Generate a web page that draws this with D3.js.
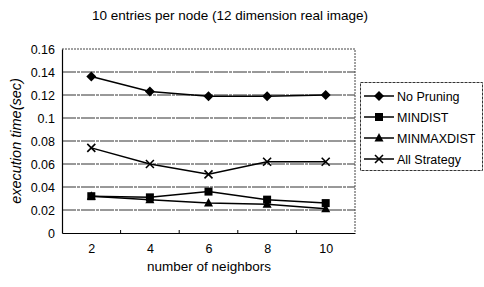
<!DOCTYPE html>
<html>
<head>
<meta charset="utf-8">
<script src="https://cdn.jsdelivr.net/npm/d3@7"></script>
<style>
  body { margin: 0; background: #fff; }
  svg { font-family: "Liberation Sans", Arial, sans-serif; }
</style>
</head>
<body>
<svg id="chart" width="484" height="287"></svg>
<script>
'use strict'

const neighbors = ['2', '4', '6', '8', '10']
const noPruning = [0.136, 0.123, 0.119, 0.119, 0.120]
const minDist = [0.032, 0.031, 0.036, 0.029, 0.026]
const minMaxDist = [0.032, 0.029, 0.026, 0.025, 0.021]
const allStrategy = [0.074, 0.060, 0.051, 0.062, 0.062]
const yTicks = [0, 0.02, 0.04, 0.06, 0.08, 0.1, 0.12, 0.14, 0.16]

const series = [
  { name: 'No Pruning', values: noPruning, symbol: 'diamond' },
  { name: 'MINDIST', values: minDist, symbol: 'square' },
  { name: 'MINMAXDIST', values: minMaxDist, symbol: 'triangle' },
  { name: 'All Strategy', values: allStrategy, symbol: 'cross' }
]

const margin = { top: 49, left: 62, right: 355, bottom: 233 }
const fontFamily = '"Liberation Sans", Arial, sans-serif'

const svg = d3.select('#chart')

const x = d3.scalePoint()
  .domain(neighbors)
  .range([margin.left, margin.right])
  .padding(0.5)

const y = d3.scaleLinear()
  .domain([0, 0.16])
  .range([margin.bottom, margin.top])

// title
svg.append('text')
  .attr('x', 230).attr('y', 20)
  .attr('text-anchor', 'middle')
  .attr('font-size', 13.5)
  .text('10 entries per node (12 dimension real image)')

// gridlines
svg.append('g')
  .selectAll('line')
  .data(yTicks.slice(1, -1))
  .join('line')
    .attr('x1', margin.left).attr('x2', margin.right)
    .attr('y1', d => y(d)).attr('y2', d => y(d))
    .attr('stroke', '#333')
    .attr('stroke-width', 1)
    .attr('stroke-dasharray', '14,1,3,1')

// frame: top and right dotted
svg.append('path')
  .attr('d', `M${margin.left},${margin.top}H${margin.right}V${margin.bottom}`)
  .attr('fill', 'none')
  .attr('stroke', '#444')
  .attr('stroke-dasharray', '2,1')

// y axis
const yAxis = svg.append('g')
  .attr('transform', `translate(${margin.left},0)`)
  .call(d3.axisLeft(y).tickValues(yTicks).tickSize(0).tickPadding(7)
    .tickFormat(d => d === 0 ? '0' : d3.format('')(+d.toFixed(2))))
yAxis.select('.domain').attr('stroke', '#000').attr('stroke-width', 1.2)
yAxis.selectAll('text').attr('font-size', 12.5).attr('fill', '#000')
  .attr('font-family', fontFamily)

// x axis
const xAxis = svg.append('g')
  .attr('transform', `translate(0,${margin.bottom})`)
  .call(d3.axisBottom(x).tickSize(0).tickPadding(11))
xAxis.select('.domain').attr('stroke', '#000').attr('stroke-width', 1.2)
xAxis.selectAll('text').attr('font-size', 12.5).attr('fill', '#000')
  .attr('font-family', fontFamily)

// small inner ticks at category boundaries
const step = x.step()
svg.append('g')
  .selectAll('line')
  .data(neighbors.slice(1))
  .join('line')
    .attr('x1', d => x(d) - step / 2).attr('x2', d => x(d) - step / 2)
    .attr('y1', margin.bottom).attr('y2', margin.bottom - 3)
    .attr('stroke', '#000')

// axis titles
svg.append('text')
  .attr('x', 209).attr('y', 271)
  .attr('text-anchor', 'middle')
  .attr('font-size', 13.5)
  .text('number of neighbors')

svg.append('text')
  .attr('transform', 'translate(21,141) rotate(-90)')
  .attr('text-anchor', 'middle')
  .attr('font-size', 14.5)
  .attr('font-style', 'italic')
  .text('execution time(sec)')

// symbols
function drawMarker(g, kind, cx, cy) {
  if (kind === 'diamond') {
    g.append('path')
      .attr('d', `M${cx},${cy - 5}L${cx + 5},${cy}L${cx},${cy + 5}L${cx - 5},${cy}Z`)
      .attr('fill', '#000')
  } else if (kind === 'square') {
    g.append('rect')
      .attr('x', cx - 4).attr('y', cy - 4).attr('width', 8).attr('height', 8)
      .attr('fill', '#000')
  } else if (kind === 'triangle') {
    g.append('path')
      .attr('d', `M${cx},${cy - 5}L${cx + 4.5},${cy + 3.5}L${cx - 4.5},${cy + 3.5}Z`)
      .attr('fill', '#000')
  } else {
    g.append('path')
      .attr('d', `M${cx - 4},${cy - 4}L${cx + 4},${cy + 4}M${cx - 4},${cy + 4}L${cx + 4},${cy - 4}`)
      .attr('stroke', '#000').attr('stroke-width', 1.6)
  }
}

const line = d3.line()
  .x((d, i) => x(neighbors[i]))
  .y(d => y(d))

const plot = svg.append('g')
series.forEach(s => {
  plot.append('path')
    .datum(s.values)
    .attr('d', line)
    .attr('fill', 'none')
    .attr('stroke', '#000')
    .attr('stroke-width', 1.5)
  s.values.forEach((v, i) => drawMarker(plot, s.symbol, x(neighbors[i]), y(v)))
})

// legend
const legend = svg.append('g')
legend.append('rect')
  .attr('x', 360.5).attr('y', 82.5).attr('width', 122).attr('height', 88)
  .attr('fill', '#fff')
  .attr('stroke', '#333')
  .attr('stroke-dasharray', '3,1')

series.forEach((s, i) => {
  const ly = 96 + i * 21
  legend.append('line')
    .attr('x1', 364).attr('x2', 394)
    .attr('y1', ly).attr('y2', ly)
    .attr('stroke', '#000').attr('stroke-width', 1.5)
  drawMarker(legend, s.symbol, 379, ly)
  legend.append('text')
    .attr('x', 397).attr('y', ly + 4.5)
    .attr('font-size', 12.5)
    .text(s.name)
})
</script>
</body>
</html>
